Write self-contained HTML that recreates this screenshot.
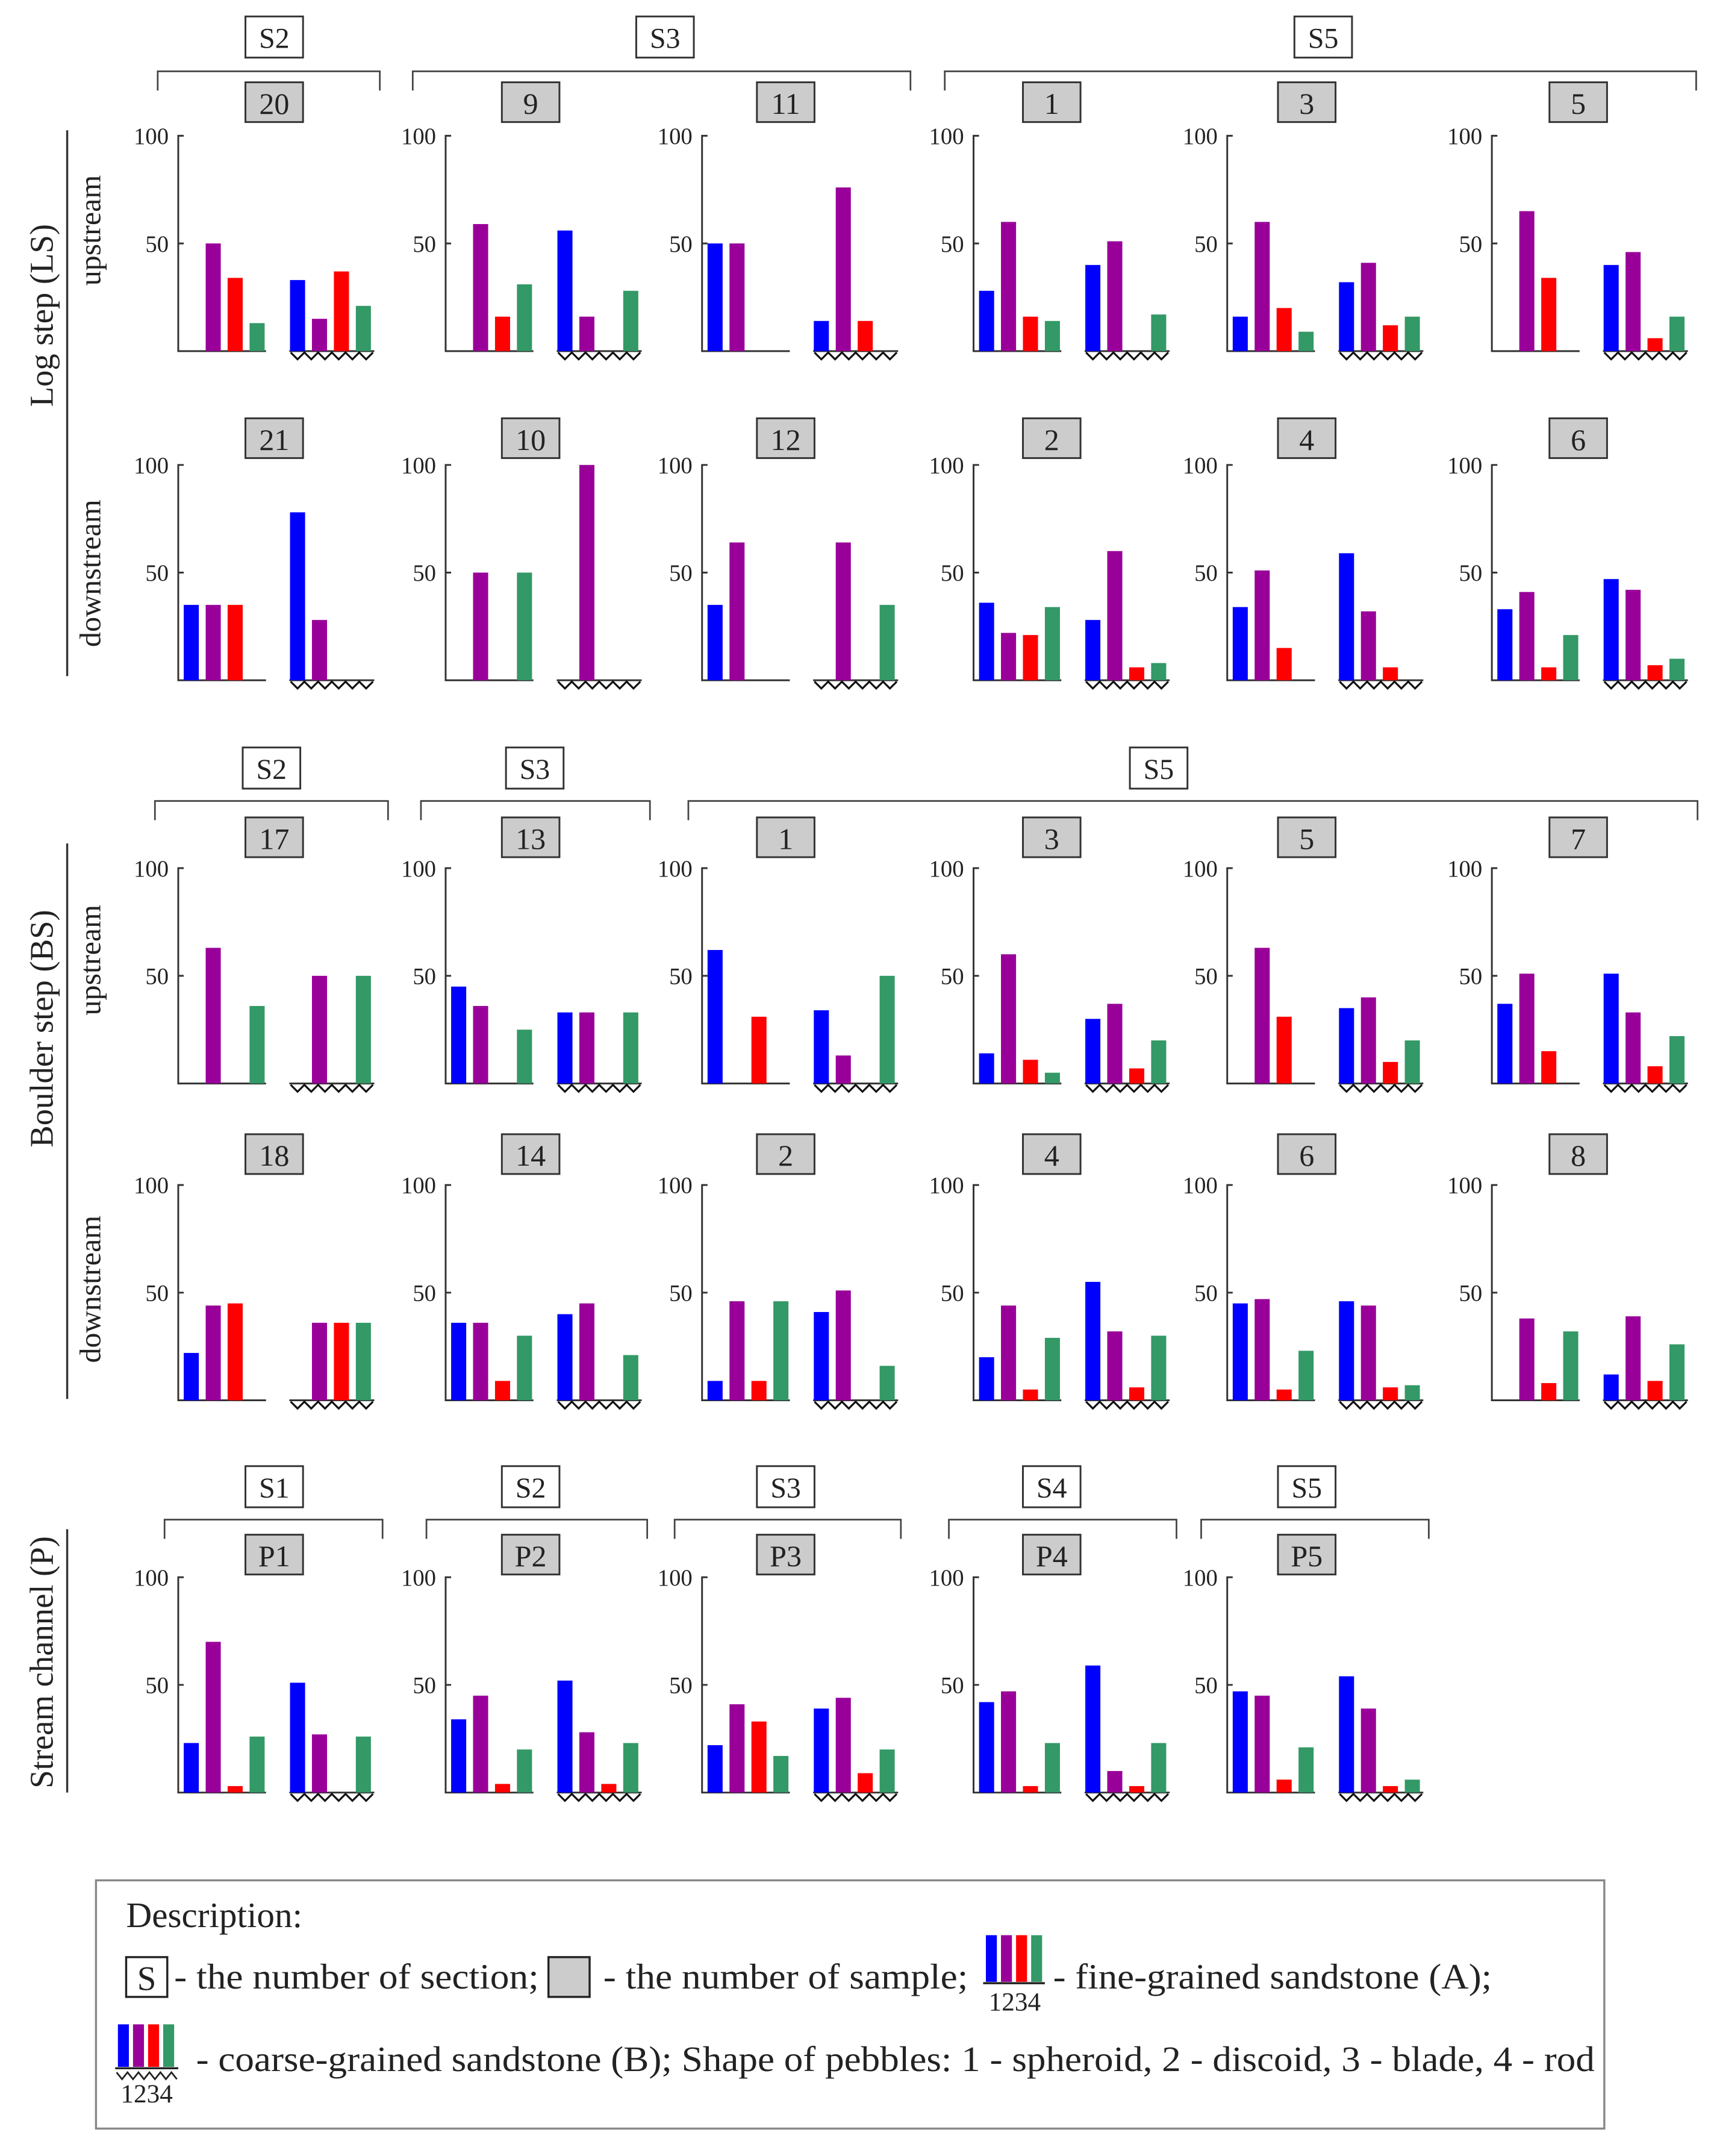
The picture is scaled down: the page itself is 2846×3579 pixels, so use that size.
<!DOCTYPE html>
<html><head><meta charset="utf-8"><style>html,body{margin:0;padding:0;background:#fff}svg{display:block}text{font-family:"Liberation Serif",serif;fill:#222}</style></head>
<body>
<svg id="chart" xmlns="http://www.w3.org/2000/svg" width="2846" height="3579" viewBox="0 0 1250 1572" preserveAspectRatio="none">
<g id="frame"></g>
<g id="panels"></g>
<g id="legend">
<rect x="70" y="1371" width="1100" height="181" fill="none" stroke="#888" stroke-width="1.5"/>
<text x="92" y="1405" font-size="26">Description:</text>
<rect x="92" y="1427" width="30" height="29" fill="#fff" stroke="#222" stroke-width="1.5"/>
<text x="107" y="1451" font-size="25" text-anchor="middle">S</text>
<text x="127" y="1450" font-size="26" textLength="266" lengthAdjust="spacingAndGlyphs">- the number of section;</text>
<rect x="400" y="1427" width="30" height="29" fill="#ccc" stroke="#222" stroke-width="1.5"/>
<text x="440" y="1450" font-size="26" textLength="266" lengthAdjust="spacingAndGlyphs">- the number of sample;</text>
<g>
<rect x="719" y="1411" width="8" height="34" fill="#0000ff"/><rect x="730" y="1411" width="8" height="34" fill="#990099"/><rect x="741" y="1411" width="8" height="34" fill="#ff0000"/><rect x="752" y="1411" width="8" height="34" fill="#339966"/>
<line x1="717" y1="1446" x2="762" y2="1446" stroke="#222" stroke-width="1.5"/>
<text x="740" y="1466" font-size="19" text-anchor="middle">1234</text></g>
<text x="768" y="1450" font-size="26" textLength="320" lengthAdjust="spacingAndGlyphs">- fine-grained sandstone (A);</text>
<g>
<rect x="86" y="1476" width="8" height="31" fill="#0000ff"/><rect x="97" y="1476" width="8" height="31" fill="#990099"/><rect x="108" y="1476" width="8" height="31" fill="#ff0000"/><rect x="119" y="1476" width="8" height="31" fill="#339966"/>
<line x1="84" y1="1508" x2="130" y2="1508" stroke="#222" stroke-width="1.5"/>
<polyline points="85,1511 89,1516 93,1511 97,1516 101,1511 105,1516 109,1511 113,1516 117,1511 121,1516 125,1511 129,1516" fill="none" stroke="#222" stroke-width="1.2"/>
<text x="107" y="1533" font-size="19" text-anchor="middle">1234</text></g>
<text x="143" y="1510" font-size="26" textLength="1020" lengthAdjust="spacingAndGlyphs">- coarse-grained sandstone (B); Shape of pebbles: 1 - spheroid, 2 - discoid, 3 - blade, 4 - rod</text>
</g>
</svg>
<script>
// Data: each panel has group A (fine) and group B (coarse) values for shapes 1..4
const rowLabels = [["20","9","11","1","3","5"],["21","10","12","2","4","6"],["17","13","1","3","5","7"],["18","14","2","4","6","8"],["P1","P2","P3","P4","P5"]];
const seriesA = [
 [[0,50,34,13],[0,59,16,31],[50,50,0,0],[28,60,16,14],[16,60,20,9],[0,65,34,0]],
 [[35,35,35,0],[0,50,0,50],[35,64,0,0],[36,22,21,34],[34,51,15,0],[33,41,6,21]],
 [[0,63,0,36],[45,36,0,25],[62,0,31,0],[14,60,11,5],[0,63,31,0],[37,51,15,0]],
 [[22,44,45,0],[36,36,9,30],[9,46,9,46],[20,44,5,29],[45,47,5,23],[0,38,8,32]],
 [[23,70,3,26],[34,45,4,20],[22,41,33,17],[42,47,3,23],[47,45,6,21]]
];
const seriesB = [
 [[33,15,37,21],[56,16,0,28],[14,76,14,0],[40,51,0,17],[32,41,12,16],[40,46,6,16]],
 [[78,28,0,0],[0,100,0,0],[0,64,0,35],[28,60,6,8],[59,32,6,0],[47,42,7,10]],
 [[0,50,0,50],[33,33,0,33],[34,13,0,50],[30,37,7,20],[35,40,10,20],[51,33,8,22]],
 [[0,36,36,36],[40,45,0,21],[41,51,0,16],[55,32,6,30],[46,44,6,7],[12,39,9,26]],
 [[51,27,0,26],[52,28,4,23],[39,44,9,20],[59,10,3,23],[54,39,3,6]]
];
const yTicks = [50,100];
const sectionGroups = [
 [["S2",200,115,277],["S3",485,301,664],["S5",965,689,1237]],
 [["S2",198,113,283],["S3",390,307,474],["S5",845,502,1238]],
 [["S1",200,120,279],["S2",387,311,472],["S3",573,492,657],["S4",767,692,858],["S5",953,876,1042]]
];
const NS="http://www.w3.org/2000/svg";
const colors=["#0000ff","#990099","#ff0000","#339966"];
const colX=[130,325,512,710,895,1088];
const boxCX=[200,387,573,767,953,1151];
const rowBase=[256,496,790,1021,1307];
const rowBoxY=[60,305,596,827,1119];
const pxPerUnit=1.57;
function mk(tag,attrs,parent,txt){const e=document.createElementNS(NS,tag);for(const k in attrs)e.setAttribute(k,attrs[k]);if(txt!==undefined)e.textContent=txt;parent.appendChild(e);return e;}
function yScale(base,v){return base-v*pxPerUnit;}
const panels=document.getElementById('panels');
const frame=document.getElementById('frame');
rowLabels.forEach((labels,r)=>{
 labels.forEach((lab,c)=>{
  const ax=colX[c],base=rowBase[r],cx=boxCX[c];
  const g=mk('g',{},panels);
  
  
  const bx=mk('rect',{x:cx-21,y:rowBoxY[r],width:42,height:29,fill:'#ccc',stroke:'#333','stroke-width':1.3},g);
  
  
  const bt=mk('text',{x:cx,y:rowBoxY[r]+23,'font-size':22,'text-anchor':'middle'},g,lab);
  
  
  const top=yScale(base,100);
  const axis=mk('path',{d:`M${ax+4},${top} H${ax} V${base} H${ax+64} M${ax},${yScale(base,50)} h4`,fill:'none',stroke:'#333','stroke-width':1.3},g);
  
  
  yTicks.forEach(t=>{const tl=mk('text',{x:ax-7,y:yScale(base,t)+6,'font-size':17,'text-anchor':'end',fill:'#333'},g,String(t));
   
   });
  const bl=mk('line',{x1:ax+81,y1:base,x2:ax+143,y2:base,stroke:'#333','stroke-width':1.3},g);
  
  
  let pts=[];for(let i=0;i<=12;i++)pts.push((ax+82+i*5)+','+(base+(i%2?6:1)));
  const zz=mk('polyline',{points:pts.join(' '),fill:'none',stroke:'#111','stroke-width':1.4},g);
  
  
  [[seriesA,4,'a'],[seriesB,81.5,'b']].forEach(([S,off,nm])=>{
   S[r][c].forEach((v,i)=>{ if(v<=0)return;
    const y=yScale(base,v);
    const b=mk('rect',{x:ax+off+16*i,y:y,width:11,height:base-y,fill:colors[i]},g);
    
    
   });
  });
 });
});
const secRowY=[[12,52,66],[545,584,598],[1069,1108,1122]];
sectionGroups.forEach((grp,gi)=>{
 const [by,ly,ty]=secRowY[gi];
 grp.forEach(([lab,cx,x1,x2])=>{
  const g=mk('g',{},frame);
  
  
  mk('rect',{x:cx-21,y:by,width:42,height:30,fill:'#fff',stroke:'#333','stroke-width':1.3},g);
  mk('text',{x:cx,y:by+23,'font-size':21,'text-anchor':'middle'},g,lab);
  mk('path',{d:`M${x1},${ty} V${ly} H${x2} V${ty}`,fill:'none',stroke:'#444','stroke-width':1.2},g);
 });
});
const side=[["Log step (LS)",33,230,95,493],["Boulder step (BS)",33,750,615,1020],["Stream channel (P)",33,1212,1115,1307]];
side.forEach(([t,x,y,y1,y2])=>{
 const tx=mk('text',{x:x,y:y,'font-size':24,'text-anchor':'middle',transform:`rotate(-90 ${x} ${y})`,'dominant-baseline':'middle'},frame,t);
 
 
 const ln=mk('line',{x1:49,y1:y1,x2:49,y2:y2,stroke:'#333','stroke-width':1.5},frame);
 
 
});
[["upstream",168],["downstream",418],["upstream",700],["downstream",940]].forEach(([t,y])=>{
 const tx=mk('text',{x:68,y:y,'font-size':22,'text-anchor':'middle',transform:`rotate(-90 68 ${y})`,'dominant-baseline':'middle'},frame,t);
 
 
});
</script>
</body></html>
